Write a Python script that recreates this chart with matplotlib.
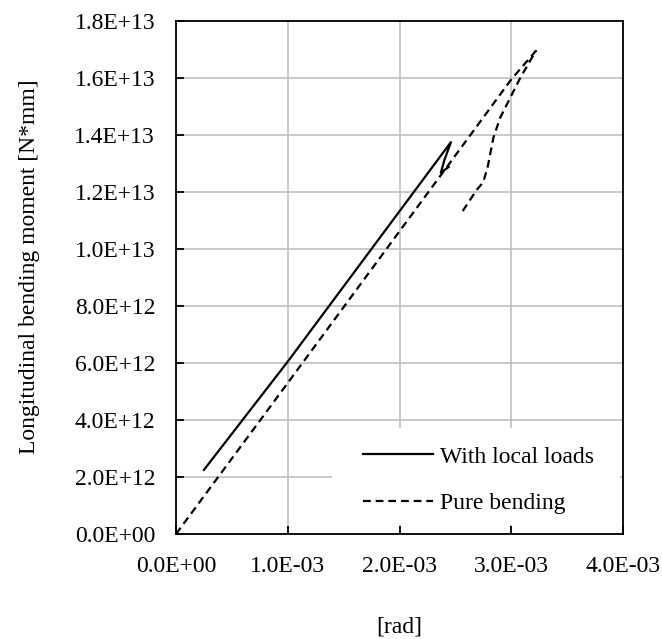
import numpy as np
import matplotlib
matplotlib.use('Agg')
import matplotlib.pyplot as plt
from matplotlib.patches import Rectangle
from matplotlib.ticker import FuncFormatter, MultipleLocator

# rotation [rad] and moment [N*mm]
local_x = [0.25e-3, 1.0e-3, 2.46e-3, 2.40e-3, 2.37e-3, 2.44e-3]
local_y = [2.25e12, 6.05e12, 13.75e12, 13.1e12, 12.68e12, 12.88e12]

pure_x = [0.0, 1.0e-3, 2.4e-3, 3.0e-3, 3.22e-3, 3.08e-3, 2.9e-3, 2.84e-3,
          2.79e-3, 2.75e-3, 2.69e-3, 2.56e-3]
pure_y = [0.0, 5.3e12, 12.75e12, 15.95e12, 16.95e12, 16.0e12, 14.6e12, 13.9e12,
          12.9e12, 12.35e12, 12.07e12, 11.3e12]

series_labels = ['With local loads', 'Pure bending']

plt.rcParams['font.family'] = ['Liberation Serif', 'DejaVu Serif']
fs = 17


def sci(v, pos):
    return f'{v:.1E}'


fig = plt.figure(figsize=(6.62, 6.39), dpi=100)
ax = fig.add_axes([176 / 662, 1 - 534 / 639, 447 / 662, 513 / 639])

ax.plot(local_x, local_y, color='black', lw=1.6, label=series_labels[0])
ax.plot(pure_x, pure_y, color='black', lw=1.6, ls=(0, (3.5, 2.2)),
        label=series_labels[1])

ax.set_xlim(0, 4e-3)
ax.set_ylim(0, 1.8e13)
ax.xaxis.set_major_locator(MultipleLocator(1e-3))
ax.yaxis.set_major_locator(MultipleLocator(2e12))
ax.xaxis.set_major_formatter(FuncFormatter(sci))
ax.yaxis.set_major_formatter(FuncFormatter(sci))

ax.set_axisbelow(True)
ax.grid(True, color='#BBBBBB', lw=1.1)
for s in ax.spines.values():
    s.set_color('black')
    s.set_linewidth(1.3)

ax.tick_params(direction='in', length=6, width=1.3, labelsize=fs)
ax.tick_params(axis='x', pad=16)
ax.tick_params(axis='y', pad=15)

ax.set_xlabel('[rad]', fontsize=fs)
ax.xaxis.set_label_coords(0.5, -0.16)
ax.set_ylabel('Longitudinal bending moment [N*mm]', fontsize=fs)
ax.yaxis.set_label_coords(-0.304, 0.522)

# white legend area covering the grid, like the spreadsheet chart
ax.add_patch(Rectangle((156 / 447, 9 / 513), 288 / 447, 97 / 513,
                       transform=ax.transAxes, facecolor='white',
                       edgecolor='none', zorder=1))

leg = ax.legend(loc='upper left', bbox_to_anchor=(187 / 447, 88 / 513),
                borderaxespad=0, borderpad=0, fontsize=fs, frameon=False,
                handlelength=2.97, handletextpad=0.3, labelspacing=1.05)

fig.savefig('out.png', dpi=100)
